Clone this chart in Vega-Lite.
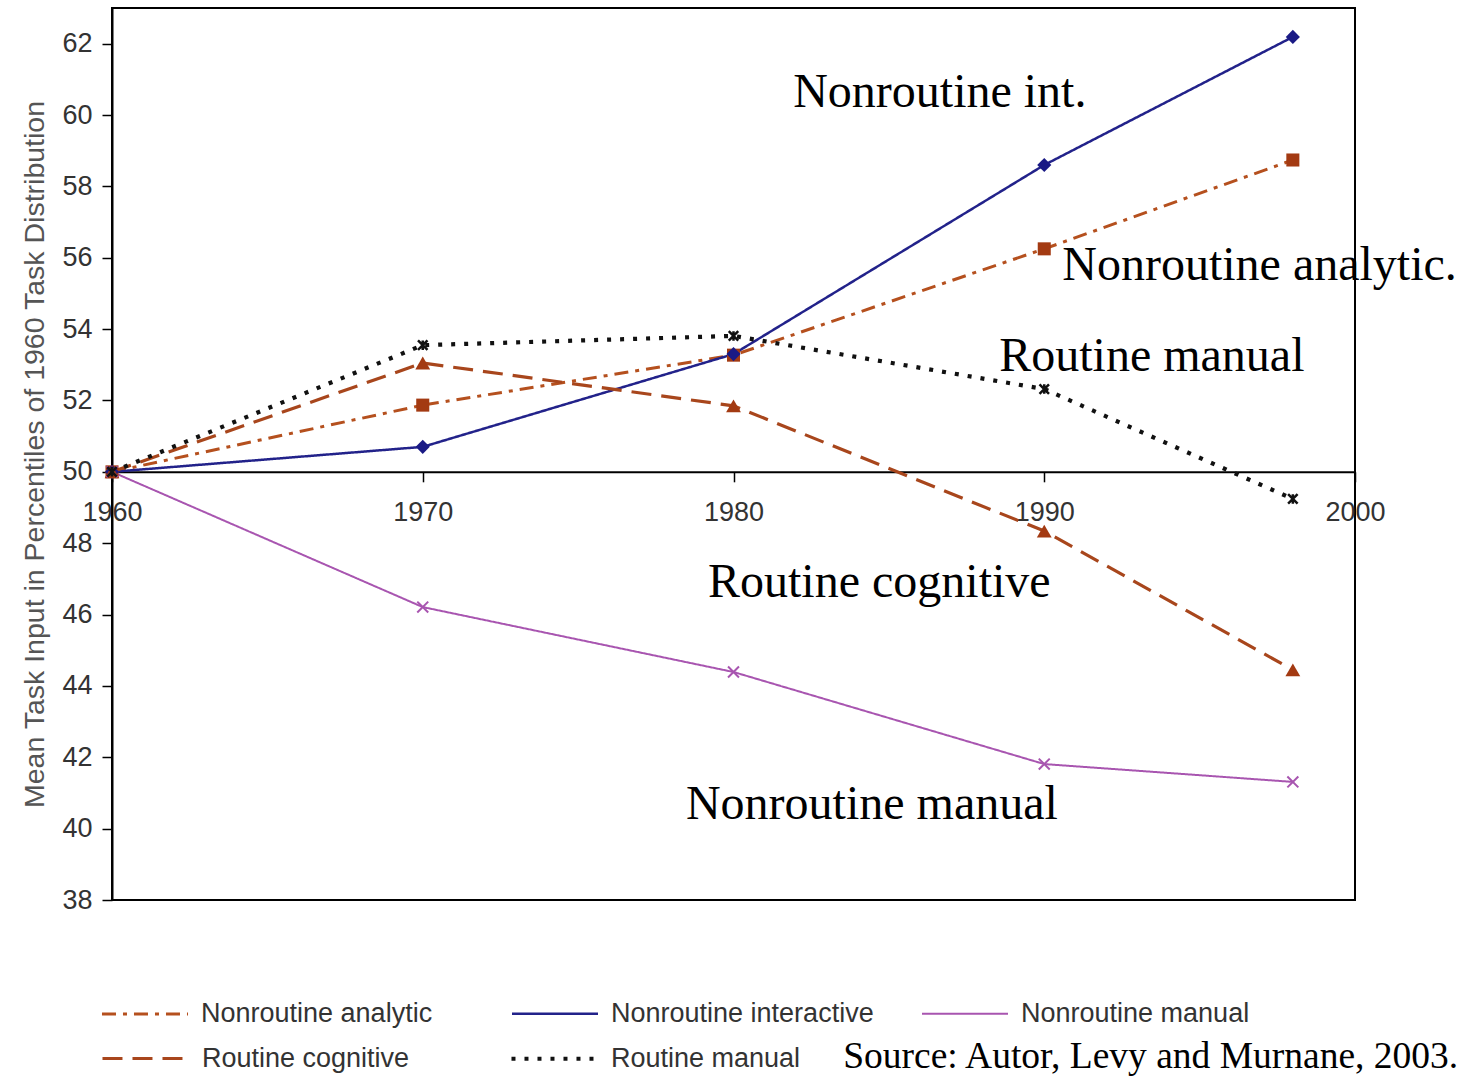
{
  "$schema": "https://vega.github.io/schema/vega-lite/v6.json",
  "width": 1243,
  "height": 892,
  "autosize": {"type": "none"},
  "padding": {"left": 112, "top": 8, "right": 122, "bottom": 178},
  "background": "white",
  "config": {
    "view": {"stroke": "black", "strokeWidth": 2},
    "font": "Liberation Sans",
    "legend": {
      "title": null,
      "orient": "none",
      "direction": "horizontal",
      "gridAlign": "all",
      "symbolType": "stroke",
      "symbolSize": 7400,
      "labelFontSize": 27,
      "labelColor": "#333333",
      "labelOffset": 11,
      "labelLimit": 400
    }
  },
  "datasets": {
    "series": [
      {"series": "Nonroutine analytic", "year": 1960, "value": 50},
      {"series": "Nonroutine analytic", "year": 1970, "value": 51.87},
      {"series": "Nonroutine analytic", "year": 1980, "value": 53.27},
      {"series": "Nonroutine analytic", "year": 1990, "value": 56.25},
      {"series": "Nonroutine analytic", "year": 1998, "value": 58.74},
      {"series": "Nonroutine interactive", "year": 1960, "value": 50},
      {"series": "Nonroutine interactive", "year": 1970, "value": 50.7},
      {"series": "Nonroutine interactive", "year": 1980, "value": 53.3},
      {"series": "Nonroutine interactive", "year": 1990, "value": 58.6},
      {"series": "Nonroutine interactive", "year": 1998, "value": 62.19},
      {"series": "Nonroutine manual", "year": 1960, "value": 50},
      {"series": "Nonroutine manual", "year": 1970, "value": 46.21},
      {"series": "Nonroutine manual", "year": 1980, "value": 44.39},
      {"series": "Nonroutine manual", "year": 1990, "value": 41.81},
      {"series": "Nonroutine manual", "year": 1998, "value": 41.31},
      {"series": "Routine cognitive", "year": 1960, "value": 50},
      {"series": "Routine cognitive", "year": 1970, "value": 53.05},
      {"series": "Routine cognitive", "year": 1980, "value": 51.85},
      {"series": "Routine cognitive", "year": 1990, "value": 48.34},
      {"series": "Routine cognitive", "year": 1998, "value": 44.45},
      {"series": "Routine manual", "year": 1960, "value": 50},
      {"series": "Routine manual", "year": 1970, "value": 53.55},
      {"series": "Routine manual", "year": 1980, "value": 53.81},
      {"series": "Routine manual", "year": 1990, "value": 52.32},
      {"series": "Routine manual", "year": 1998, "value": 49.24}
    ],
    "labels": [
      {"label": "Nonroutine int.", "year": 1981.92, "value": 60.23},
      {"label": "Nonroutine analytic.", "year": 1990.58, "value": 55.38},
      {"label": "Routine manual", "year": 1988.55, "value": 52.83},
      {"label": "Routine cognitive", "year": 1979.18, "value": 46.49},
      {"label": "Nonroutine manual", "year": 1978.47, "value": 40.27}
    ],
    "source": [
      {"label": "Source: Autor, Levy and Murnane, 2003.", "year": 1983.53, "value": 33.3}
    ]
  },
  "resolve": {"scale": {"color": "independent", "strokeDash": "independent", "strokeWidth": "independent"}},
  "layer": [
    {
      "data": {"name": "series"},
      "transform": [{"filter": "indexof(['Nonroutine analytic','Nonroutine interactive','Nonroutine manual'], datum.series) >= 0"}],
      "mark": {"type": "line", "strokeCap": "butt"},
      "encoding": {
        "x": {
          "field": "year", "type": "quantitative",
          "scale": {"domain": [1960, 2000], "nice": false, "zero": false},
          "axis": {
            "values": [1960, 1970, 1980, 1990, 2000],
            "format": "d",
            "title": null,
            "offset": -428.2,
            "grid": false,
            "domainColor": "black",
            "domainWidth": 2,
            "tickColor": "black",
            "tickWidth": 1.5,
            "tickSize": 10,
            "labelFontSize": 27,
            "labelColor": "#333333",
            "labelPadding": 18,
            "labelFlush": false,
            "labelOverlap": false
          }
        },
        "y": {
          "field": "value", "type": "quantitative",
          "scale": {"domain": [38, 63], "nice": false, "zero": false},
          "axis": {
            "values": [38, 40, 42, 44, 46, 48, 50, 52, 54, 56, 58, 60, 62],
            "title": "Mean Task Input in Percentiles of 1960 Task Distribution",
            "titleFontSize": 28.5,
            "titleFontWeight": "normal",
            "titleColor": "#555555",
            "titlePadding": 12,
            "grid": false,
            "domainColor": "black",
            "domainWidth": 2,
            "tickColor": "black",
            "tickWidth": 1.5,
            "tickSize": 10,
            "labelFontSize": 27,
            "labelColor": "#333333",
            "labelPadding": 10
          }
        },
        "color": {
          "field": "series", "type": "nominal",
          "scale": {
            "domain": ["Nonroutine analytic", "Nonroutine interactive", "Nonroutine manual"],
            "range": ["#B5501E", "#22228A", "#A855B0"]
          },
          "legend": {"legendX": -12, "legendY": 961, "columns": 3, "columnPadding": 42}
        },
        "strokeDash": {
          "field": "series", "type": "nominal",
          "scale": {
            "domain": ["Nonroutine analytic", "Nonroutine interactive", "Nonroutine manual"],
            "range": [[14, 7, 4, 7], [1, 0], [1, 0]]
          }
        },
        "strokeWidth": {
          "field": "series", "type": "nominal",
          "scale": {
            "domain": ["Nonroutine analytic", "Nonroutine interactive", "Nonroutine manual"],
            "range": [3, 2, 2]
          }
        }
      }
    },
    {
      "data": {"name": "series"},
      "transform": [{"filter": "indexof(['Routine cognitive','Routine manual'], datum.series) >= 0"}],
      "mark": {"type": "line", "strokeCap": "butt"},
      "encoding": {
        "x": {"field": "year", "type": "quantitative"},
        "y": {"field": "value", "type": "quantitative"},
        "color": {
          "field": "series", "type": "nominal",
          "scale": {
            "domain": ["Routine cognitive", "Routine manual"],
            "range": ["#A8461C", "#111111"]
          },
          "legend": {"legendX": -12, "legendY": 1005, "columns": 2, "columnPadding": 93}
        },
        "strokeDash": {
          "field": "series", "type": "nominal",
          "scale": {
            "domain": ["Routine cognitive", "Routine manual"],
            "range": [[20, 10], [4, 9]]
          }
        },
        "strokeWidth": {
          "field": "series", "type": "nominal",
          "scale": {
            "domain": ["Routine cognitive", "Routine manual"],
            "range": [3.2, 4.2]
          }
        }
      }
    },
    {
      "data": {"name": "series"},
      "transform": [{"filter": "datum.series === 'Nonroutine analytic'"}],
      "mark": {"type": "point", "shape": "square", "filled": true, "size": 170, "opacity": 1, "color": "#A33A12"},
      "encoding": {
        "x": {"field": "year", "type": "quantitative"},
        "y": {"field": "value", "type": "quantitative"}
      }
    },
    {
      "data": {"name": "series"},
      "transform": [{"filter": "datum.series === 'Nonroutine interactive'"}],
      "mark": {"type": "point", "shape": "diamond", "filled": true, "size": 200, "opacity": 1, "color": "#1A1A85"},
      "encoding": {
        "x": {"field": "year", "type": "quantitative"},
        "y": {"field": "value", "type": "quantitative"}
      }
    },
    {
      "data": {"name": "series"},
      "transform": [{"filter": "datum.series === 'Routine cognitive'"}],
      "mark": {"type": "point", "shape": "triangle-up", "filled": true, "size": 220, "opacity": 1, "color": "#A33A12"},
      "encoding": {
        "x": {"field": "year", "type": "quantitative"},
        "y": {"field": "value", "type": "quantitative"}
      }
    },
    {
      "data": {"name": "series"},
      "transform": [{"filter": "datum.series === 'Nonroutine manual'"}],
      "mark": {"type": "point", "shape": "M-1,-1L1,1M-1,1L1,-1", "filled": false, "size": 120, "strokeWidth": 2, "opacity": 1, "color": "#A855B0"},
      "encoding": {
        "x": {"field": "year", "type": "quantitative"},
        "y": {"field": "value", "type": "quantitative"}
      }
    },
    {
      "data": {"name": "series"},
      "transform": [{"filter": "datum.series === 'Routine manual'"}],
      "mark": {"type": "point", "shape": "M-1,-1L1,1M-1,1L1,-1M0,-1L0,1", "filled": false, "size": 90, "strokeWidth": 2.5, "opacity": 1, "color": "#111111"},
      "encoding": {
        "x": {"field": "year", "type": "quantitative"},
        "y": {"field": "value", "type": "quantitative"}
      }
    },
    {
      "data": {"name": "labels"},
      "mark": {"type": "text", "font": "Liberation Serif", "fontSize": 48, "align": "left", "baseline": "alphabetic", "color": "black"},
      "encoding": {
        "x": {"field": "year", "type": "quantitative"},
        "y": {"field": "value", "type": "quantitative"},
        "text": {"field": "label"}
      }
    },
    {
      "data": {"name": "source"},
      "mark": {"type": "text", "font": "Liberation Serif", "fontSize": 37.5, "align": "left", "baseline": "alphabetic", "color": "black"},
      "encoding": {
        "x": {"field": "year", "type": "quantitative"},
        "y": {"field": "value", "type": "quantitative"},
        "text": {"field": "label"}
      }
    }
  ]
}
